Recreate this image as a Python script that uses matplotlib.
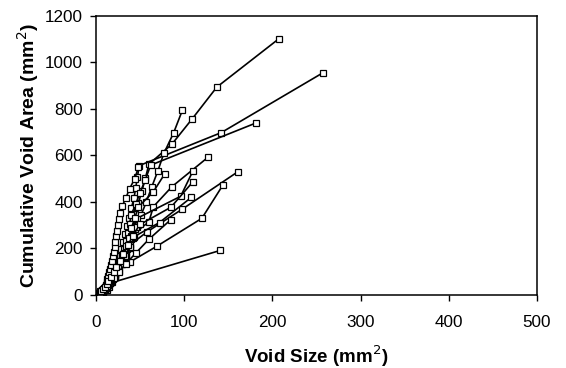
import matplotlib
matplotlib.use("Agg")
import matplotlib.pyplot as plt

# Each series: void sizes (x) and cumulative void area (y)
xA = [5, 8, 10, 12, 15, 18, 20, 22, 25, 28, 30, 33, 36, 40, 44, 48, 52, 56, 60, 86, 109, 137, 207]
yA = [5, 13, 23, 35, 50, 68, 88, 110, 135, 163, 193, 226, 262, 302, 346, 394, 446, 502, 562, 648, 757, 894, 1101]

xB = [2, 3, 5, 8, 10, 13, 16, 18, 19, 22, 25, 27, 28, 31, 33, 35, 37, 40, 43, 45, 47, 49, 142, 257]
yB = [2, 5, 10, 18, 28, 41, 57, 75, 94, 116, 141, 168, 196, 227, 260, 295, 332, 372, 415, 460, 507, 556, 698, 955]

xC = [3, 5, 7, 9, 12, 14, 17, 20, 23, 26, 29, 32, 34, 36, 38, 40, 45, 50, 56, 62, 181]
yC = [3, 8, 15, 24, 36, 50, 67, 87, 110, 136, 165, 197, 231, 267, 305, 345, 390, 440, 496, 558, 739]

xD = [3, 5, 12, 15, 18, 22, 26, 30, 34, 38, 42, 46, 51, 57, 63, 70, 77, 88, 98]
yD = [3, 8, 20, 35, 53, 75, 101, 131, 165, 203, 245, 291, 342, 399, 462, 532, 609, 697, 795]

xE = [2, 4, 7, 10, 13, 16, 19, 22, 25, 28, 32, 36, 40, 60, 65, 86, 127]
yE = [2, 6, 13, 23, 36, 52, 71, 93, 118, 146, 178, 214, 254, 314, 379, 465, 592]

xF = [3, 5, 7, 9, 11, 14, 17, 21, 25, 29, 34, 38, 58, 98, 161]
yF = [3, 8, 15, 24, 35, 49, 66, 87, 112, 141, 175, 213, 271, 369, 530]

xG = [2, 4, 6, 8, 10, 13, 16, 19, 24, 38, 69, 120, 144]
yG = [2, 6, 12, 20, 30, 43, 59, 78, 102, 140, 209, 329, 473]

xH = [1, 2, 3, 4, 5, 7, 12, 16, 141]
yH = [1, 3, 6, 10, 15, 22, 34, 50, 191]

xI = [2, 4, 6, 8, 11, 14, 17, 20, 23, 27, 31, 35, 40, 44, 46, 96, 110]
yI = [2, 6, 12, 20, 31, 45, 62, 82, 105, 132, 163, 198, 238, 282, 328, 424, 534]

xJ = [2, 3, 5, 7, 9, 11, 14, 17, 20, 23, 26, 30, 34, 38, 72, 108]
yJ = [2, 5, 10, 17, 26, 37, 51, 68, 88, 111, 137, 167, 201, 239, 311, 419]

xK = [3, 5, 8, 11, 14, 17, 21, 25, 29, 33, 38, 43, 45, 85, 110]
yK = [3, 8, 16, 27, 41, 58, 79, 104, 133, 166, 204, 247, 292, 377, 487]

xM = [4, 7, 10, 13, 16, 19, 22, 25, 28, 31, 34, 37, 40, 44, 48, 65, 78]
yM = [4, 11, 21, 34, 50, 69, 91, 116, 144, 175, 209, 246, 286, 330, 378, 443, 521]

xN = [5, 7, 9, 10, 11, 12, 13, 14, 15, 16, 17, 18, 19, 20, 21, 22, 23, 24, 25, 26, 27, 30, 34, 38, 44, 48]
yN = [5, 12, 21, 31, 42, 54, 67, 81, 96, 112, 129, 147, 166, 186, 207, 229, 252, 276, 301, 327, 354, 384, 418, 456, 500, 548]

xO = [1, 2, 3, 5, 7, 9, 12, 15, 20, 26, 34, 45, 60, 85]
yO = [1, 3, 6, 11, 18, 27, 39, 54, 74, 100, 134, 179, 239, 324]

xP = [2, 3, 4, 6, 8, 10, 12, 14, 17, 20, 23, 27, 31, 36, 42, 50]
yP = [2, 5, 9, 15, 23, 33, 45, 59, 76, 96, 119, 146, 177, 213, 255, 305]

series = [(xA, yA), (xB, yB), (xC, yC), (xD, yD), (xE, yE), (xF, yF), (xG, yG),
          (xH, yH), (xI, yI), (xJ, yJ), (xK, yK), (xM, yM), (xN, yN), (xO, yO), (xP, yP)]

x_ticks = [0, 100, 200, 300, 400, 500]
y_ticks = [0, 200, 400, 600, 800, 1000, 1200]

plt.rcParams['font.family'] = ['Liberation Sans', 'DejaVu Sans']

fig = plt.figure(figsize=(5.66, 3.68), dpi=100)
ax = fig.add_axes([0.1696, 0.199, 0.7792, 0.7575])

for xs, ys in series:
    ax.plot(xs, ys, color='black', lw=1.2, marker='s', ms=4,
            mfc='white', mec='black', mew=0.9)

ax.set_xlim(0, 500)
ax.set_ylim(0, 1200)
ax.set_xticks(x_ticks)
ax.set_yticks(y_ticks)
ax.tick_params(direction='out', length=4.3, width=1, labelsize=12.3, colors='black')
ax.tick_params(axis='x', pad=10)
ax.tick_params(axis='y', pad=5)
for s in ax.spines.values():
    s.set_linewidth(1.1)
    s.set_color('black')

ax.set_xlabel('Void Size (mm$^2$)', fontsize=13.5, fontweight='bold', labelpad=10)
ax.set_ylabel('Cumulative Void Area (mm$^2$)', fontsize=14, fontweight='bold', labelpad=3)

fig.savefig('out.png', dpi=100)
